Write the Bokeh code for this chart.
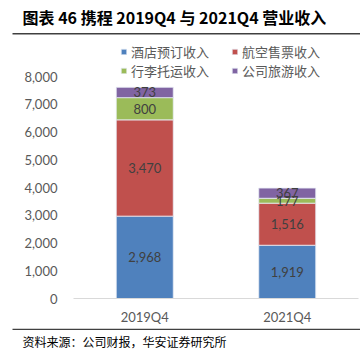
from bokeh.plotting import figure
from bokeh.layouts import column
from bokeh.models import (FactorRange, Range1d, Label, Legend, LegendItem,
                          LabelSet, ColumnDataSource, FixedTicker, NumeralTickFormatter)
from bokeh.core.properties import value
from bokeh.embed import file_html
from bokeh.resources import INLINE
import numpy as np

categories = ["2019Q4", "2021Q4"]
series_names = ["酒店预订收入", "航空售票收入", "行李托运收入", "公司旅游收入"]
hotel = [2968, 1919]
air = [3470, 1516]
luggage = [800, 177]
travel = [373, 367]
colors = ["#4F81BD", "#C0504D", "#9BBB59", "#8064A2"]
y_ticks = [0, 1000, 2000, 3000, 4000, 5000, 6000, 7000, 8000]
title_text = "图表 46 携程 2019Q4 与 2021Q4 营业收入"
source_text = "资料来源：公司财报，华安证券研究所"

W = 360
TOP_H, FOOT_H = 40, 28
MAIN_H = 356 - TOP_H - FOOT_H     # 288
FL = 73                           # frame left
FRAME_BOTTOM_GAP = 30             # canvas 298 -> 328
PX_PER_1000 = 27.75
frame_h = MAIN_H - FRAME_BOTTOM_GAP   # 258
y_end = frame_h / PX_PER_1000 * 1000


def blank(h):
    # data coords: x = canvas px from left, y = px from bottom of this strip
    f = figure(width=W, height=h, x_range=Range1d(0, W), y_range=Range1d(0, h),
               output_backend="svg", toolbar_location=None, min_border=0,
               frame_align=False)
    f.xaxis.visible = False
    f.yaxis.visible = False
    f.grid.visible = False
    f.outline_line_color = None
    f.background_fill_color = "white"
    f.border_fill_color = "white"
    return f


# ---- header ----
top = blank(TOP_H)
top.add_layout(Label(x=22, y=TOP_H - 16, text=title_text, text_font="Noto Sans CJK SC",
                     text_font_style="bold", text_font_size="16px", text_color="#000000",
                     text_baseline="middle"))
top.line(x=[12, 360], y=[TOP_H - 33.2, TOP_H - 33.2], line_color="#404040", line_width=1.6)

# ---- main chart ----
keys = ["hotel", "air", "luggage", "travel"]
src = ColumnDataSource(dict(cat=categories, hotel=hotel, air=air, luggage=luggage,
                            travel=travel))

p = figure(width=W, height=MAIN_H, x_range=FactorRange(*categories, range_padding=0),
           y_range=Range1d(0, y_end), output_backend="svg", toolbar_location=None,
           min_border_left=FL, min_border_right=2, min_border_top=0,
           min_border_bottom=FRAME_BOTTOM_GAP, frame_align=False)
p.outline_line_color = None
p.xgrid.grid_line_color = None
p.ygrid.grid_line_color = None
p.background_fill_color = "white"
p.border_fill_color = "white"

renderers = p.vbar_stack(keys, x="cat", width=0.4, source=src, color=colors,
                         line_color="#E8EEF6", line_width=0.8)

vals = np.array([hotel, air, luggage, travel], dtype=float)
cum = np.cumsum(vals, axis=0)
mids = cum - vals / 2
lx, ly, lt = [], [], []
for i in range(vals.shape[0]):
    for j, c in enumerate(categories):
        lx.append(c)
        ly.append(mids[i, j])
        lt.append(f"{int(vals[i, j]):,}")
lsrc = ColumnDataSource(dict(x=lx, y=ly, t=lt))
p.add_layout(LabelSet(x="x", y="y", text="t", source=lsrc, text_align="center",
                      text_baseline="middle", text_font=value("Lato"),
                      text_font_size="13px", text_color="#404040"))

p.yaxis.ticker = FixedTicker(ticks=y_ticks)
p.yaxis.formatter = NumeralTickFormatter(format="0,0")
p.yaxis.axis_line_color = None
p.yaxis.major_tick_line_color = None
p.yaxis.minor_tick_line_color = None
p.yaxis.major_tick_in = 0
p.yaxis.major_tick_out = 0
p.yaxis.major_label_standoff = 16
p.yaxis.major_label_text_font = "Lato"
p.yaxis.major_label_text_font_size = "13px"
p.yaxis.major_label_text_color = "#595959"

p.xaxis.axis_line_color = "#D9D9D9"
p.xaxis.axis_line_width = 1
p.xaxis.major_tick_line_color = None
p.xaxis.minor_tick_line_color = None
p.xaxis.major_tick_in = 0
p.xaxis.major_tick_out = 0
p.xaxis.major_label_standoff = 10
p.xaxis.major_label_text_font = "Lato"
p.xaxis.major_label_text_font_size = "13px"
p.xaxis.major_label_text_color = "#595959"

# legend: two rows (hotel, air) / (luggage, travel); items listed column-major
order = [0, 2, 1, 3]
items = [LegendItem(label=series_names[k], renderers=[renderers[k]]) for k in order]
legend = Legend(items=items, ncols=2, location=(120 - FL, frame_h - 40),
                glyph_width=7, glyph_height=7, label_height=14, label_width=100,
                spacing=0, padding=0, margin=0, label_standoff=4,
                label_text_font="Noto Sans CJK SC", label_text_font_size="13px",
                label_text_color="#595959", border_line_color=None,
                background_fill_alpha=0)
p.add_layout(legend, "center")

# ---- footer ----
foot = blank(FOOT_H)
foot.line(x=[12, 360], y=[FOOT_H - 0.8, FOOT_H - 0.8], line_color="#404040", line_width=1.6)
foot.add_layout(Label(x=22, y=FOOT_H - 13, text=source_text, text_font="Noto Sans CJK SC",
                      text_font_size="12px", text_color="#000000", text_baseline="middle"))

layout = column(top, p, foot, spacing=0)
open("out.html", "w").write(file_html(layout, INLINE))
